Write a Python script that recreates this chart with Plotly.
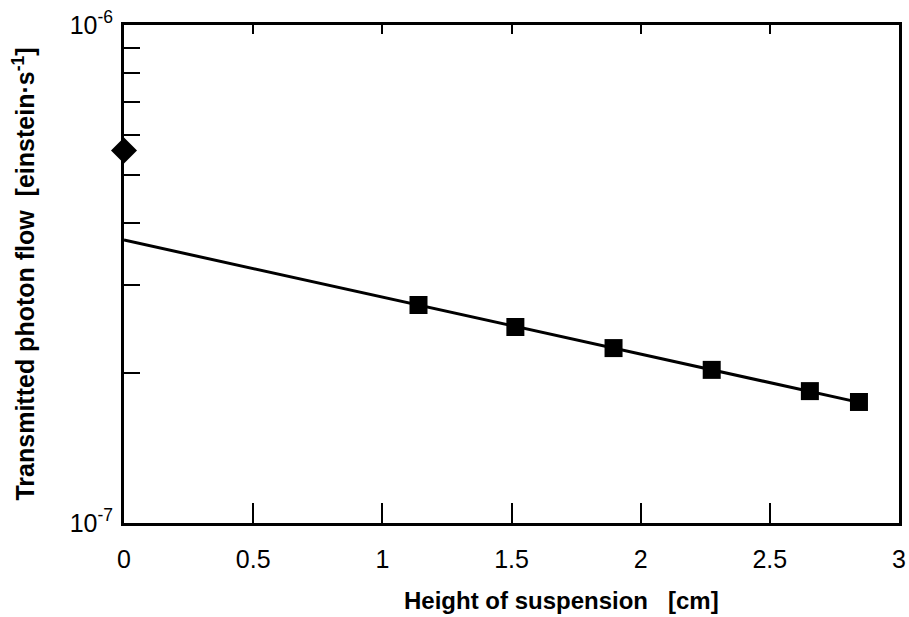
import plotly.graph_objects as go

# data
diamond_x = [0.0]
diamond_y = [5.6e-7]
square_x = [1.14, 1.515, 1.895, 2.275, 2.655, 2.845]
square_y = [2.74e-7, 2.475e-7, 2.245e-7, 2.03e-7, 1.84e-7, 1.75e-7]
fit_x = [0.0, 2.85]
fit_y = [3.70e-7, 1.745e-7]
x_ticks = [0, 0.5, 1, 1.5, 2, 2.5, 3]
x_ticklabels = ["0", "0.5", "1", "1.5", "2", "2.5", "3"]
y_ticks = [1e-7, 1e-6]
y_ticklabels = ["10<sup>-7</sup>", "10<sup>-6</sup>"]
y_minor_ticks = [2e-7, 3e-7, 4e-7, 5e-7, 6e-7, 7e-7, 8e-7, 9e-7]
x_title = "<b>Height of suspension\u00a0\u00a0\u00a0[cm]</b>"
y_title = "<b>Transmitted photon flow\u00a0\u00a0[einstein·s<sup>-1</sup>]</b>"

FONT = "Liberation Sans, Arial, sans-serif"

fig = go.Figure()
fig.add_trace(go.Scatter(x=fit_x, y=fit_y, mode="lines",
                         line=dict(color="black", width=3), showlegend=False))
fig.add_trace(go.Scatter(x=square_x, y=square_y, mode="markers",
                         marker=dict(symbol="square", size=18, color="black"),
                         showlegend=False))
fig.add_trace(go.Scatter(x=diamond_x, y=diamond_y, mode="markers",
                         marker=dict(symbol="diamond", size=20, color="black"),
                         cliponaxis=False, showlegend=False))
# invisible trace for top axis
fig.add_trace(go.Scatter(x=[0, 3], y=[1e-7, 1e-7], mode="markers",
                         marker=dict(opacity=0), xaxis="x2", showlegend=False,
                         hoverinfo="skip"))

fig.add_annotation(text=x_title, xref="paper", yref="paper",
                   x=0.564, y=-0.155, xanchor="center", yanchor="middle",
                   showarrow=False, font=dict(size=24, family=FONT, color="black"))

fig.update_layout(
    width=909, height=617,
    margin=dict(l=124, r=10, t=25, b=94),
    plot_bgcolor="white", paper_bgcolor="white",
    font=dict(family=FONT, color="black"),
    xaxis=dict(range=[0, 3], tickvals=x_ticks, ticktext=x_ticklabels,
               ticks="inside", ticklen=20, tickwidth=2, tickcolor="black",
               showline=True, linecolor="black", linewidth=3, mirror=True,
               showgrid=False, zeroline=False, automargin=False,
               tickfont=dict(size=25, family=FONT), ticklabelstandoff=12),
    xaxis2=dict(range=[0, 3], overlaying="x", side="top", tickvals=x_ticks,
                ticks="inside", ticklen=9, tickwidth=2, tickcolor="black",
                showticklabels=False, showgrid=False, zeroline=False,
                showline=False, automargin=False),
    yaxis=dict(type="log", range=[-7, -6], tickvals=y_ticks, ticktext=y_ticklabels,
               ticks="inside", ticklen=16, tickwidth=2, tickcolor="black",
               minor=dict(tickvals=y_minor_ticks, ticks="inside", ticklen=16,
                          tickwidth=2, tickcolor="black", showgrid=False),
               showline=True, linecolor="black", linewidth=3, mirror=True,
               showgrid=False, zeroline=False, automargin=False,
               tickfont=dict(size=25, family=FONT), ticklabelstandoff=3,
               title=dict(text=y_title, font=dict(size=25, family=FONT), standoff=28)),
)

fig.write_html("out.html")
